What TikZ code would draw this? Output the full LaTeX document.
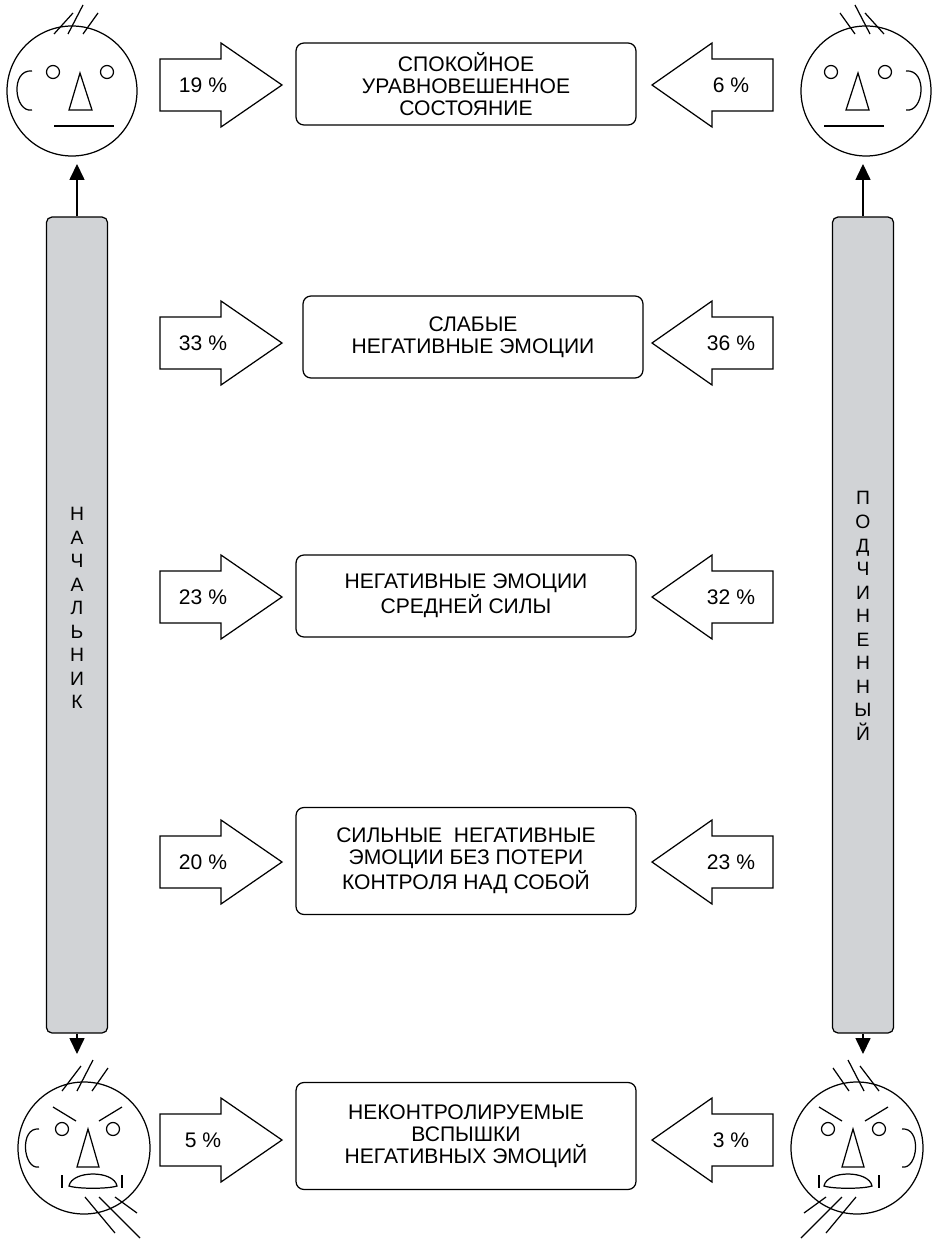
\documentclass[tikz,border=0pt]{standalone}
\usepackage{fontspec}
\setmainfont{Liberation Sans}
\usetikzlibrary{arrows.meta}

\definecolor{bargray}{RGB}{209,211,214}

\tikzset{
  % faces are drawn looking right, ear on the left
  calmface/.pic={
    \draw (0,0) circle[radius=65];
    \draw (-18,-57) -- (1,-78) (-4,-57) -- (11,-86) (11,-57) -- (26,-78);
    \draw (-40,-20) .. controls (-62,-22) and (-58,22) .. (-40,19);
    \draw (-19,-19) circle[radius=6.5] (35,-19) circle[radius=6.5];
    \draw (8,-18) -- (-3,19) -- (20,19) -- cycle;
    \draw (-18,35) -- (42,35);
  },
  angryface/.pic={
    \draw (0,0) circle[radius=66];
    \draw (-22,-57) -- (-3,-82) (-7,-57) -- (9,-88) (8,-57) -- (24,-80);
    % brows
    \draw (-31,-41) -- (-8,-27) (15,-27) -- (38,-41);
    \draw (-45,-19) .. controls (-65,-21) and (-61,22) .. (-45,19);
    \draw (-22,-19) circle[radius=6.5] (29,-19) circle[radius=6.5];
    \draw (4,-19) -- (-7,19) -- (15,19) -- cycle;
    % open mouth
    \draw (-15,38) .. controls (-12,22) and (30,22) .. (33,38)
      .. controls (24,41) and (-6,41) .. cycle;
    \draw (-22,27) -- (-22,40) (38,27) -- (38,40);
    % shouting
    \draw (1,49) -- (31,85) (15,49) -- (56,90) (31,49) -- (53,65);
  },
  stage/.style={draw, rounded corners=4.5pt, align=center, minimum width=6.8cm,
    minimum height=1.64cm, font=\fontsize{12}{12.5}\selectfont},
  tall/.style={minimum height=2.14cm},
  share/.style={font=\fontsize{12}{14}\selectfont},
  block/.style={draw, fill=white},
  rank/.style={draw, fill=bargray, rounded corners=3pt,
    minimum width=1.22cm, minimum height=16.32cm},
  letters/.style={align=center, font=\fontsize{11}{13.4}\selectfont},
  climb/.style={-{Triangle[width=8.5pt,length=9pt]}},
}

\begin{document}
\begin{tikzpicture}[x=0.02cm, y=-0.02cm, line width=0.7pt]
  \useasboundingbox (0,0) rectangle (933,1240);

  % the five stages
  \node[stage] (calm) at (466,84) {СПОКОЙНОЕ\\УРАВНОВЕШЕННОЕ\\СОСТОЯНИЕ};
  \node[stage] (weak) at (473,337) {СЛАБЫЕ\\НЕГАТИВНЫЕ ЭМОЦИИ};
  \node[stage] (medium) at (466,596) {НЕГАТИВНЫЕ ЭМОЦИИ\\СРЕДНЕЙ СИЛЫ};
  \node[stage, tall] (strong) at (466,861)
    {СИЛЬНЫЕ~~НЕГАТИВНЫЕ\\ЭМОЦИИ БЕЗ ПОТЕРИ\\КОНТРОЛЯ НАД СОБОЙ};
  \node[stage, tall] (outburst) at (466,1136)
    {НЕКОНТРОЛИРУЕМЫЕ\\ВСПЫШКИ\\НЕГАТИВНЫХ ЭМОЦИЙ};

  % block arrows: chief on the left, subordinate on the right
  \foreach \y/\c/\s [count=\i] in {85/19/6, 343/33/36, 597/23/32, 862/20/23, 1140/5/3}{
    \draw[block] (160,\y-26) -- (221,\y-26) -- (221,\y-42) -- (282,\y)
      -- (221,\y+42) -- (221,\y+26) -- (160,\y+26) -- cycle;
    \draw[block] (773,\y-26) -- (712,\y-26) -- (712,\y-42) -- (652,\y)
      -- (712,\y+42) -- (712,\y+26) -- (773,\y+26) -- cycle;
    \node[share] (chief\i) at (203,\y) {\c~\%};
    \node[share] (sub\i) at (731,\y) {\s~\%};
  }

  % side bars
  \node[rank] (chief) at (77,625) {};
  \node[rank] (sub) at (863,625) {};
  \node[letters] (chieftitle) at (77,608) {Н\\А\\Ч\\А\\Л\\Ь\\Н\\И\\К};
  \node[letters] (subtitle) at (863,616) {П\\О\\Д\\Ч\\И\\Н\\Е\\Н\\Н\\Ы\\Й};

  \coordinate (chiefup) at (77,164);
  \coordinate (chiefdown) at (77,1054);
  \coordinate (subup) at (863,164);
  \coordinate (subdown) at (863,1054);
  \draw[climb] (chief.north) -- (chiefup);
  \draw[climb] (chief.south) -- (chiefdown);
  \draw[climb] (sub.north) -- (subup);
  \draw[climb] (sub.south) -- (subdown);

  % faces
  \pic at (72,91) {calmface};
  \pic[xscale=-1] at (866,91) {calmface};
  \pic at (84,1148) {angryface};
  \pic[xscale=-1] at (857,1148) {angryface};
\end{tikzpicture}
\end{document}
